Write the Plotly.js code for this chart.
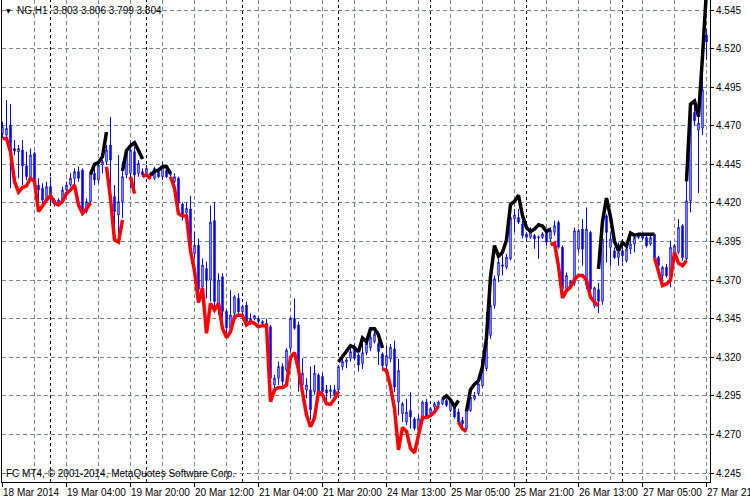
<!DOCTYPE html>
<html><head><meta charset="utf-8">
<script src="https://cdn.plot.ly/plotly-3.0.1.min.js"></script>
<style>html,body{margin:0;padding:0;background:#fff;}#chart{width:750px;height:500px;}</style>
</head><body><div id="chart"></div>
<script>
// ---- data (NG, H1) ----
const openP = [4.4650,4.4640,4.4704,4.4553,4.4532,4.4543,4.4441,4.4370,4.4521,4.4316,
4.4295,4.4230,4.4306,4.4219,4.4198,4.4219,4.4284,4.4316,4.4360,4.4403,
4.4413,4.4144,4.4209,4.4392,4.4349,4.4446,4.4467,4.4575,4.4241,4.4122,
4.4209,4.4381,4.4392,4.4532,4.4392,4.4403,4.4392,4.4392,4.4360,4.4403,
4.4370,4.4413,4.4381,4.4338,4.4360,4.4193,4.4135,4.4161,4.3872,4.3926,
4.3657,4.3775,4.3701,4.4086,4.3541,4.3722,4.3498,4.3388,4.3485,4.3581,
4.3495,4.3538,4.3431,4.3448,4.3452,4.3431,4.3420,4.3398,4.3021,4.3064,
4.3140,4.3118,4.3258,4.3452,4.3409,4.3021,4.2989,4.2989,4.2978,4.3086,
4.3075,4.2989,4.2978,4.2989,4.2989,4.3140,4.3168,4.3194,4.3269,4.3215,
4.3160,4.3230,4.3260,4.3300,4.3290,4.3222,4.3146,4.3189,4.3254,4.2910,
4.2835,4.2781,4.2856,4.2800,4.2727,4.2792,4.2910,4.2835,4.2878,4.2889,
4.2899,4.2920,4.2856,4.2878,4.2845,4.2792,4.2738,4.2856,4.2931,4.2964,
4.3017,4.3127,4.3342,4.3536,4.3730,4.3799,4.3784,4.3838,4.4097,4.4107,
4.4064,4.3999,4.3978,4.3989,4.3975,4.3978,4.4021,4.3967,4.4010,4.4075,
4.3913,4.3644,4.3660,4.3680,4.3901,4.4031,4.3664,4.4009,4.3531,4.3639,
4.3563,4.4117,4.3912,4.3890,4.3847,4.3890,4.3826,4.3901,4.3934,4.3977,
4.3988,4.3977,4.3934,4.3998,4.3847,4.3729,4.3783,4.3729,4.3880,4.3880,
4.4052,4.3837,4.4214,4.4786,4.4672,4.4685,4.5288];
const highP = [4.4726,4.4866,4.4840,4.4607,4.4575,4.4607,4.4532,4.4553,4.4532,4.4360,
4.4327,4.4338,4.4370,4.4230,4.4230,4.4306,4.4338,4.4392,4.4424,4.4435,
4.4424,4.4230,4.4413,4.4456,4.4467,4.4478,4.4575,4.4758,4.4316,4.4510,
4.4467,4.4543,4.4597,4.4564,4.4478,4.4424,4.4446,4.4403,4.4435,4.4413,
4.4467,4.4435,4.4413,4.4392,4.4370,4.4204,4.4204,4.4247,4.4011,4.3969,
4.3840,4.3819,4.4183,4.4204,4.3744,4.3744,4.3509,4.3635,4.3603,4.3614,
4.3540,4.3560,4.3485,4.3474,4.3463,4.3440,4.3452,4.3409,4.3086,4.3172,
4.3161,4.3258,4.3463,4.3581,4.3431,4.3194,4.3064,4.3140,4.3150,4.3097,
4.3097,4.3021,4.3021,4.3021,4.3150,4.3204,4.3194,4.3258,4.3290,4.3226,
4.3290,4.3320,4.3380,4.3380,4.3366,4.3232,4.3275,4.3286,4.3308,4.3189,
4.2910,4.2931,4.2974,4.2813,4.2830,4.2920,4.2931,4.2878,4.2910,4.2920,
4.2942,4.2931,4.2931,4.2889,4.2867,4.2813,4.2889,4.2953,4.2975,4.3040,
4.3200,4.3493,4.3795,4.3730,4.3838,4.3870,4.3870,4.4161,4.4161,4.4161,
4.4086,4.4010,4.4043,4.3999,4.3989,4.4010,4.4032,4.4043,4.4086,4.4086,
4.3924,4.3750,4.3700,4.4041,4.4031,4.4095,4.4171,4.4020,4.3660,4.3682,
4.4009,4.4128,4.4009,4.3912,4.3944,4.3912,4.3912,4.3977,4.3988,4.3998,
4.3998,4.3988,4.3988,4.3998,4.3858,4.3793,4.3804,4.3955,4.3934,4.4095,
4.4063,4.4354,4.4796,4.4850,4.4783,4.5100,4.5327];
const lowP = [4.4618,4.4597,4.4295,4.4510,4.4360,4.4316,4.4349,4.4349,4.4295,4.4187,
4.4176,4.4209,4.4198,4.4176,4.4187,4.4209,4.4263,4.4306,4.4316,4.4338,
4.4133,4.4133,4.4200,4.4316,4.4327,4.4392,4.4446,4.4230,4.3950,4.3939,
4.4101,4.4360,4.4295,4.4273,4.4370,4.4370,4.4370,4.4360,4.4349,4.4360,
4.4349,4.4360,4.4370,4.4327,4.4155,4.4086,4.4118,4.3904,4.3840,4.3625,
4.3625,4.3581,4.3562,4.3498,4.3476,4.3455,4.3355,4.3370,4.3474,4.3463,
4.3485,4.3420,4.3409,4.3440,4.3420,4.3409,4.3398,4.3043,4.3000,4.3021,
4.3021,4.3107,4.3237,4.3378,4.2978,4.3000,4.2935,4.2795,4.2957,4.2957,
4.2935,4.2913,4.2935,4.2935,4.2978,4.3118,4.3129,4.3172,4.3183,4.3107,
4.3125,4.3215,4.3240,4.3290,4.3150,4.3125,4.3103,4.3168,4.2974,4.2824,
4.2781,4.2759,4.2738,4.2727,4.2716,4.2781,4.2802,4.2813,4.2856,4.2878,
4.2889,4.2878,4.2845,4.2802,4.2770,4.2750,4.2727,4.2845,4.2920,4.2953,
4.3007,4.3110,4.3320,4.3515,4.3687,4.3730,4.3770,4.3827,4.4010,4.4064,
4.3970,4.3960,4.3967,4.3903,4.3838,4.3967,4.3924,4.3946,4.3989,4.3903,
4.3601,4.3622,4.3640,4.3664,4.3880,4.3793,4.3642,4.3620,4.3520,4.3488,
4.3541,4.3815,4.3793,4.3837,4.3793,4.3815,4.3815,4.3869,4.3880,4.3966,
4.3960,4.3912,4.3923,4.3837,4.3729,4.3664,4.3718,4.3653,4.3869,4.3869,
4.3826,4.3826,4.4139,4.4700,4.4264,4.4640,4.5126];
const closeP = [4.4694,4.4683,4.4543,4.4536,4.4553,4.4441,4.4370,4.4510,4.4327,4.4284,
4.4219,4.4306,4.4230,4.4198,4.4219,4.4284,4.4316,4.4360,4.4403,4.4360,
4.4144,4.4209,4.4392,4.4349,4.4446,4.4467,4.4543,4.4478,4.4144,4.4209,
4.4370,4.4521,4.4543,4.4381,4.4456,4.4381,4.4424,4.4381,4.4424,4.4370,
4.4435,4.4370,4.4403,4.4370,4.4198,4.4118,4.4165,4.3926,4.3926,4.3640,
4.3797,4.3700,4.4076,4.3562,4.3701,4.3498,4.3391,4.3474,4.3592,4.3495,
4.3528,4.3431,4.3452,4.3469,4.3431,4.3420,4.3409,4.3064,4.3064,4.3140,
4.3043,4.3247,4.3452,4.3388,4.3107,4.3097,4.3021,4.2860,4.3097,4.2967,
4.2978,4.2967,4.2989,4.2957,4.3140,4.3172,4.3183,4.3237,4.3194,4.3150,
4.3230,4.3290,4.3330,4.3350,4.3237,4.3146,4.3211,4.3265,4.3007,4.3114,
4.2899,4.2845,4.2813,4.2740,4.2802,4.2910,4.2813,4.2867,4.2899,4.2910,
4.2931,4.2889,4.2920,4.2813,4.2781,4.2770,4.2867,4.2942,4.2953,4.3028,
4.3189,4.3299,4.3536,4.3709,4.3816,4.3790,4.3849,4.4107,4.4122,4.4075,
4.3989,4.3978,4.4032,4.3967,4.3980,4.3999,4.3946,4.4021,4.4053,4.3913,
4.3644,4.3730,4.3690,4.4020,4.4020,4.3901,4.4031,4.3642,4.3650,4.3563,
4.3966,4.4009,4.3966,4.3847,4.3880,4.3858,4.3901,4.3934,4.3977,4.3990,
4.3972,4.3923,4.3977,4.3847,4.3793,4.3783,4.3729,4.3912,4.3923,4.4041,
4.3847,4.4214,4.4780,4.4732,4.4718,4.4932,4.5243];
// indicator: red (falling) buffer and black (rising) buffer, one value per bar
const lineRed = [4.4618,4.4618,4.4532,4.4340,4.4270,4.4300,4.4310,4.4360,4.4340,4.4144,
4.4180,4.4220,4.4247,4.4200,4.4187,4.4210,4.4262,4.4284,4.4316,4.4187,
4.4133,4.4161,4.4200,null,null,null,4.4435,4.4230,4.3960,4.3946,
4.4090,null,4.4370,4.4260,null,4.4370,4.4385,4.4355,null,null,
null,null,4.4370,4.4295,4.4130,4.4115,4.4115,4.3890,4.3760,4.3555,
4.3650,4.3355,4.3550,4.3506,4.3550,4.3388,4.3327,4.3366,4.3463,4.3474,
4.3470,4.3410,4.3430,4.3420,4.3398,4.3405,4.3405,4.2913,4.2989,4.3004,
4.3004,4.3020,4.3200,4.3230,4.3120,4.2957,4.2827,4.2750,4.2806,4.2978,
4.2957,4.2900,4.2895,4.2930,4.2978,null,null,null,null,null,
null,null,null,null,null,4.3125,4.3114,4.3010,4.2867,4.2600,
4.2745,4.2720,4.2610,4.2580,4.2700,4.2810,4.2810,4.2822,4.2845,4.2885,
null,null,null,null,4.2780,4.2735,4.2720,null,null,null,
null,null,null,null,null,null,null,null,null,null,
null,null,null,null,null,null,null,4.3930,4.3940,4.3790,
4.3585,4.3632,4.3655,4.3705,4.3730,4.3730,4.3700,4.3590,4.3556,4.3535,
null,null,null,null,null,null,null,null,null,null,
null,null,null,4.3847,4.3760,4.3664,4.3675,4.3700,4.3880,4.3810,
4.3793,4.3826,null,null,null,null,null];
const lineBlack = [null,null,null,null,null,null,null,null,null,null,
null,null,null,null,null,null,null,null,null,null,
null,null,4.4385,4.4450,4.4463,4.4500,4.4660,null,null,null,
4.4407,4.4540,4.4570,4.4590,4.4540,4.4485,null,4.4377,4.4407,4.4413,
4.4435,4.4435,4.4390,null,null,null,null,null,null,null,
null,null,null,null,null,null,null,null,null,null,
null,null,null,null,null,null,null,null,null,null,
null,null,null,null,null,null,null,null,null,null,
null,null,null,null,4.3170,4.3204,4.3240,4.3275,4.3262,4.3235,
4.3325,4.3300,4.3385,4.3385,4.3345,4.3260,null,null,null,null,
null,null,null,null,null,null,null,null,null,null,
4.2930,4.2950,4.2925,4.2880,4.2920,null,4.2850,4.2990,4.3025,4.3048,
4.3140,4.3330,4.3720,4.3924,4.3855,4.3880,4.3960,4.4190,4.4210,4.4250,
4.4118,4.4040,4.4015,4.4030,4.4058,4.4050,4.4015,4.4032,null,null,
null,null,null,null,null,null,null,null,null,4.3772,
4.4080,4.4231,4.4110,4.3950,4.3890,4.3944,4.3920,4.4005,4.3990,4.3998,
4.3998,4.3998,4.3998,4.3998,null,null,null,null,null,null,
null,4.4340,4.4840,4.4860,4.4760,4.5150,4.5580];
const timeLabels = ["18 Mar 2014","19 Mar 04:00","19 Mar 20:00","20 Mar 12:00","21 Mar 04:00","21 Mar 20:00",
"24 Mar 13:00","25 Mar 05:00","25 Mar 21:00","26 Mar 13:00","27 Mar 05:00","27 Mar 21:00"];
const timeLabelBars = [0,16,32,48,64,80,96,112,128,144,160,176];
const daySeparatorBars = [12,36,60,84,107,131,155];
const priceTicks = [4.245,4.270,4.295,4.320,4.345,4.370,4.395,4.420,4.445,4.470,4.495,4.520,4.545];
const symbolInfo = "NG,H1  3.803 3.806 3.799 3.804";
const copyrightText = "FC MT4, © 2001-2014, MetaQuotes Software Corp.";

// ---- drawing ----
const barIndex = openP.map((_, i) => i);
const FONT = 'Liberation Sans, Arial, sans-serif';
const GRID = '#778899';

const traces = [
  {type:'candlestick', x:barIndex, open:openP, high:highP, low:lowP, close:closeP,
   increasing:{line:{color:'#0000FF', width:1}, fillcolor:'#FFFFFF'},
   decreasing:{line:{color:'#0000FF', width:1}, fillcolor:'#0000FF'},
   whiskerwidth:0, hoverinfo:'skip', showlegend:false},
  {type:'scatter', mode:'lines', x:barIndex, y:lineRed, connectgaps:false,
   line:{color:'#FF0000', width:3.5}, hoverinfo:'skip', showlegend:false},
  {type:'scatter', mode:'lines', x:barIndex, y:lineBlack, connectgaps:false,
   line:{color:'#000000', width:3.5}, hoverinfo:'skip', showlegend:false}
];

const annotations = timeLabels.map((t, k) => ({
  xref:'x', yref:'paper', x:timeLabelBars[k], y:0, xanchor:'left', yanchor:'top',
  yshift:-3, xshift:-2, text:t, showarrow:false, font:{family:FONT, size:10, color:'#000'}
}));
annotations.push({xref:'paper', yref:'paper', x:0.003, y:0.979, xanchor:'left', yanchor:'middle',
  text:'▼', showarrow:false, font:{family:'DejaVu Sans', size:6, color:'#000'}});
annotations.push({xref:'paper', yref:'paper', x:0.019, y:0.979, xanchor:'left', yanchor:'middle',
  text:symbolInfo, showarrow:false, font:{family:FONT, size:10, color:'#000'}});
annotations.push({xref:'paper', yref:'paper', x:0.003, y:0.017, xanchor:'left', yanchor:'middle',
  text:copyrightText, showarrow:false, font:{family:FONT, size:10, color:'#000'}});

const shapes = daySeparatorBars.map(b => ({type:'line', xref:'x', yref:'paper', x0:b, x1:b, y0:0, y1:1,
  line:{color:'#000', width:1, dash:'3px,3px'}, layer:'below'}));

const layout = {
  width:750, height:500,
  margin:{l:2, r:40, t:0, b:18, pad:0},
  paper_bgcolor:'#FFFFFF', plot_bgcolor:'#FFFFFF',
  showlegend:false,
  boxgap:0.5,
  font:{family:FONT, size:10, color:'#000'},
  xaxis:{type:'linear', range:[-0.125, 176.875], rangeslider:{visible:false},
    tickmode:'array', tickvals:timeLabelBars, ticktext:timeLabelBars.map(() => ''),
    ticks:'outside', ticklen:4, tickcolor:'#000', tickwidth:1,
    showgrid:true, gridcolor:GRID, griddash:'4px,3px', gridwidth:1,
    minor:{tickmode:'linear', tick0:0, dtick:8, showgrid:true, gridcolor:GRID, griddash:'4px,3px', gridwidth:1, ticks:''},
    showline:true, linecolor:'#000', linewidth:1, zeroline:false, fixedrange:true},
  yaxis:{side:'right', range:[4.2392, 4.5515], tickmode:'array', tickvals:priceTicks,
    ticktext:priceTicks.map(v => v.toFixed(3)),
    ticks:'outside', ticklen:3, tickcolor:'#000', tickwidth:1,
    showgrid:true, gridcolor:GRID, griddash:'4px,3px', gridwidth:1,
    showline:true, mirror:true, linecolor:'#000', linewidth:1, zeroline:false,
    tickfont:{family:FONT, size:10, color:'#000'}, fixedrange:true},
  shapes:shapes,
  annotations:annotations
};

Plotly.newPlot('chart', traces, layout, {staticPlot:true, displayModeBar:false});
</script>
</body></html>
